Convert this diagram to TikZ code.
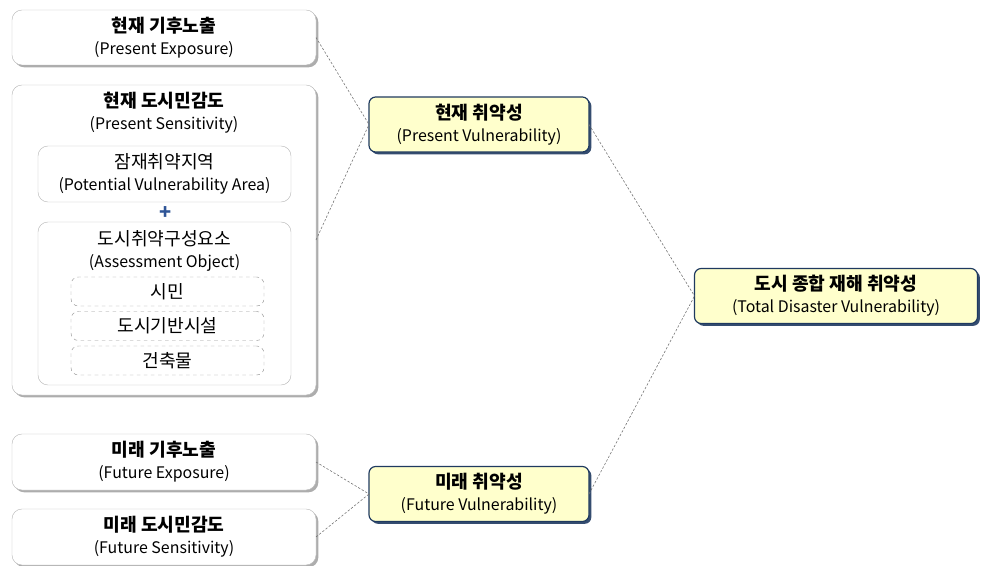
\documentclass[tikz,border=0pt]{standalone}
\usepackage{fontspec}
\setmainfont{Noto Sans CJK KR}
\usetikzlibrary{shadows}
\definecolor{navy}{HTML}{1F3A60}
\definecolor{paleyellow}{HTML}{FFFFCC}
\definecolor{plusblue}{HTML}{2F5597}
\newcommand{\en}{\fontsize{13.6}{19}\selectfont}

\begin{document}
\begin{tikzpicture}[x=0.03cm,y=-0.03cm,
        every node/.style={align=center,inner sep=0pt,outer sep=0pt,font=\fontsize{15.5}{19}\selectfont},
        whitebox/.style={draw=gray!55,fill=white,rounded corners=0.3cm,
            drop shadow={shadow xshift=2pt,shadow yshift=-2pt,fill=gray!80,opacity=0.8}},
        innerbox/.style={draw=gray!55,fill=white,rounded corners=0.3cm,
            minimum width=7.59cm},
        itembox/.style={draw=gray!80,dashed,rounded corners=0.22cm,
            minimum width=5.79cm,minimum height=0.87cm},
        vulbox/.style={draw=navy,line width=1pt,fill=paleyellow,rounded corners=0.2cm,
            minimum height=1.65cm,
            drop shadow={shadow xshift=2pt,shadow yshift=-2pt,fill=navy,opacity=0.9}},
        link/.style={draw=black!55,dash pattern=on 2pt off 1.5pt,line width=0.5pt}]
    \useasboundingbox (0,0) rectangle (984,566);

    \node[whitebox,minimum width=9.12cm,minimum height=1.65cm] (pe) at (164,37.5)
        {\textbf{현재 기후노출}\\{\en (Present Exposure)}};
    \node[whitebox,minimum width=9.12cm,minimum height=9.3cm] (ps) at (164,240) {};
    \node (pst) at (164,113) {\textbf{현재 도시민감도}\\{\en (Present Sensitivity)}};
    \node[innerbox,minimum height=1.68cm] (pva) at (164.5,174)
        {잠재취약지역\\{\en (Potential Vulnerability Area)}};
    \node[text=plusblue,font=\fontsize{17}{17}\selectfont\bfseries] (plus) at (166,213) {+};
    \node[innerbox,minimum height=4.89cm] (ao) at (164.5,303.5) {};
    \node (aot) at (164.5,251) {도시취약구성요소\\{\en (Assessment Object)}};
    \node[itembox] (citizen) at (167.5,291.5) {시민};
    \node[itembox] (infra) at (167.5,326) {도시기반시설};
    \node[itembox] (bldg) at (167.5,360.5) {건축물};

    \node[whitebox,minimum width=9.12cm,minimum height=1.68cm] (fe) at (164,462)
        {\textbf{미래 기후노출}\\{\en (Future Exposure)}};
    \node[whitebox,minimum width=9.12cm,minimum height=1.68cm] (fs) at (164,537)
        {\textbf{미래 도시민감도}\\{\en (Future Sensitivity)}};

    \node[vulbox,minimum width=6.6cm] (pv) at (479,124.5)
        {\textbf{현재 취약성}\\{\en (Present Vulnerability)}};
    \node[vulbox,minimum width=6.6cm] (fv) at (479,494)
        {\textbf{미래 취약성}\\{\en (Future Vulnerability)}};
    \node[vulbox,minimum width=8.49cm] (tv) at (836,296)
        {\textbf{도시 종합 재해 취약성}\\{\en (Total Disaster Vulnerability)}};

    \draw[link] (pe.east) -- (pv.west);
    \draw[link] (ps.east) -- (pv.west);
    \draw[link] (fe.east) -- (fv.west);
    \draw[link] (fs.east) -- (fv.west);
    \draw[link] (pv.east) -- (tv.west);
    \draw[link] (fv.east) -- (tv.west);
\end{tikzpicture}
\end{document}
